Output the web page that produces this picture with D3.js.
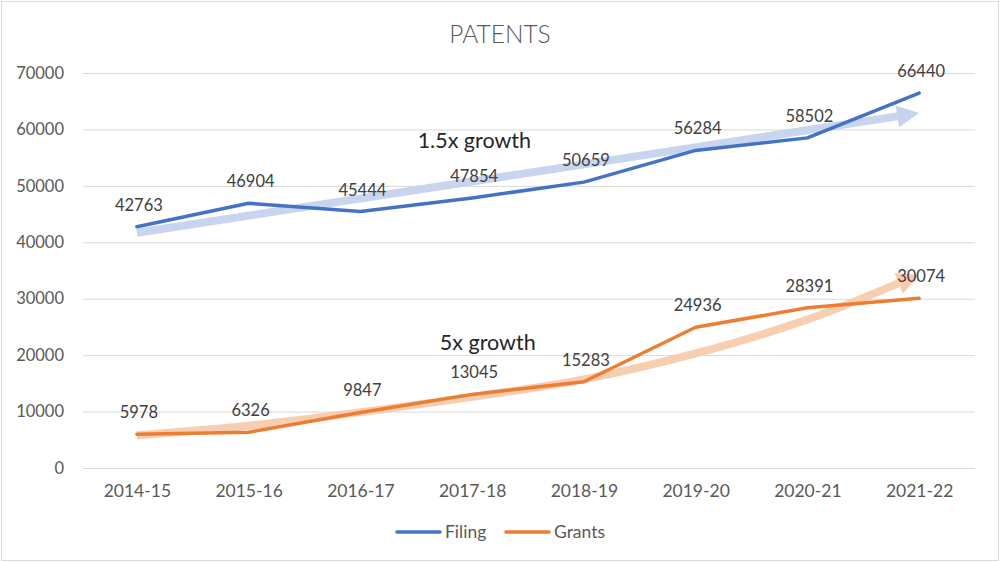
<!DOCTYPE html>
<html>
<head>
<meta charset="utf-8">
<script src="https://cdn.jsdelivr.net/npm/d3@7"></script>
<style>
  html, body { margin: 0; padding: 0; background: #fff; }
  svg { display: block; font-family: Lato, "Open Sans", sans-serif; }
</style>
</head>
<body>
<svg id="chart" width="1000" height="562"></svg>
<script>
const categories = ["2014-15", "2015-16", "2016-17", "2017-18", "2018-19", "2019-20", "2020-21", "2021-22"];
const filing = [42763, 46904, 45444, 47854, 50659, 56284, 58502, 66440];
const grants = [5978, 6326, 9847, 13045, 15283, 24936, 28391, 30074];
const yTicks = [0, 10000, 20000, 30000, 40000, 50000, 60000, 70000];
const seriesNames = ["Filing", "Grants"];
// growth arrows (category index, value) annotations
const filingArrow = [[0, 41700], [7, 62900]];
const grantsArrow = [[0, 5800], [1, 7500], [2, 9900], [3, 12600], [4, 15700], [5, 20300], [6, 26300], [7.0, 34200]];
const annotations = [
  { text: "1.5x growth", at: [3.02, 56700] },
  { text: "5x growth", at: [3.14, 20900] }
];

const svg = d3.select("#chart");
const W = 1000, H = 562;
const colors = { Filing: "#4472C4", Grants: "#ED7D31" };
const arrowColors = { Filing: "#c5d3ee", Grants: "#f8cbad" };
const FF = "Lato, 'Open Sans', sans-serif";

svg.append("rect").attr("x", 1.5).attr("y", 1.5).attr("width", W - 3).attr("height", H - 3)
  .attr("fill", "#fff").attr("stroke", "#d9d9d9");

const x = d3.scalePoint().domain(categories).range([81, 975]).padding(0.5);
const y = d3.scaleLinear().domain([0, 70000]).range([468, 73]);
const xi = i => x(categories[0]) + i * x.step();

// title
svg.append("text").attr("x", 500).attr("y", 43).attr("text-anchor", "middle")
  .attr("font-size", 24.5).attr("font-weight", 300).attr("fill", "#595959").text("PATENTS");

// grid + y axis
const yAxis = d3.axisLeft(y).tickValues(yTicks).tickSize(-(975 - 83)).tickPadding(19).tickFormat(d3.format("d"));
const gy = svg.append("g").attr("transform", "translate(83,0)").call(yAxis);
gy.select(".domain").remove();
gy.selectAll(".tick line").attr("stroke", "#d9d9d9").attr("stroke-width", 1);
gy.selectAll(".tick text").attr("font-size", 16.5).attr("fill", "#595959").attr("font-family", FF);

// x axis labels
const xAxis = d3.axisBottom(x).tickSize(0).tickPadding(17);
const gx = svg.append("g").attr("transform", "translate(0,468)").call(xAxis);
gx.select(".domain").remove();
gx.selectAll(".tick text").attr("font-size", 17.5).attr("fill", "#595959").attr("font-family", FF);

// arrows
function drawArrow(pts, color, curve) {
  const P = pts.map(p => [xi(p[0]), y(p[1])]);
  const n = P.length;
  const tip = P[n - 1];
  const prev = P[n - 2];
  const dx = tip[0] - prev[0], dy = tip[1] - prev[1];
  const len = Math.hypot(dx, dy);
  const ux = dx / len, uy = dy / len;
  const headLen = 22, headW = 11;
  const base = [tip[0] - ux * headLen, tip[1] - uy * headLen];
  const P2 = P.slice(0, n - 1).concat([base]);
  svg.append("path").attr("d", d3.line().curve(curve)(P2))
    .attr("fill", "none").attr("stroke", color).attr("stroke-width", 8).attr("opacity", 0.95);
  const px = -uy, py = ux;
  svg.append("path").attr("d", d3.line()([
    tip,
    [base[0] + px * headW, base[1] + py * headW],
    [base[0] - px * headW, base[1] - py * headW]
  ]) + "Z").attr("fill", color);
}
drawArrow(filingArrow, arrowColors.Filing, d3.curveLinear);
drawArrow(grantsArrow, arrowColors.Grants, d3.curveCatmullRom);

// lines
const line = d3.line().x((d, i) => x(categories[i])).y(d => y(d));
[[filing, "Filing"], [grants, "Grants"]].forEach(([vals, name]) => {
  svg.append("path").attr("d", line(vals)).attr("fill", "none")
    .attr("stroke", colors[name]).attr("stroke-width", 3.5)
    .attr("stroke-linejoin", "round").attr("stroke-linecap", "round");
  svg.append("g").selectAll("text").data(vals).join("text")
    .attr("x", (d, i) => x(categories[i]) + 2).attr("y", d => y(d) - 16)
    .attr("text-anchor", "middle").attr("font-size", 16.5).attr("fill", "#404040")
    .text(d => d);
});

// annotations
svg.append("g").selectAll("text").data(annotations).join("text")
  .attr("x", d => xi(d.at[0])).attr("y", d => y(d.at[1]))
  .attr("text-anchor", "middle").attr("font-size", 21.5).attr("fill", "#262626")
  .text(d => d.text);

// legend
const leg = svg.append("g");
const legItems = [{ name: "Filing", x: 397 }, { name: "Grants", x: 506 }];
legItems.forEach(it => {
  leg.append("line").attr("x1", it.x).attr("x2", it.x + 43).attr("y1", 532).attr("y2", 532)
    .attr("stroke", colors[it.name]).attr("stroke-width", 3.5).attr("stroke-linecap", "round");
  leg.append("text").attr("x", it.x + 48).attr("y", 538).attr("font-size", 17.5).attr("fill", "#595959").text(it.name);
});
</script>
</body>
</html>
